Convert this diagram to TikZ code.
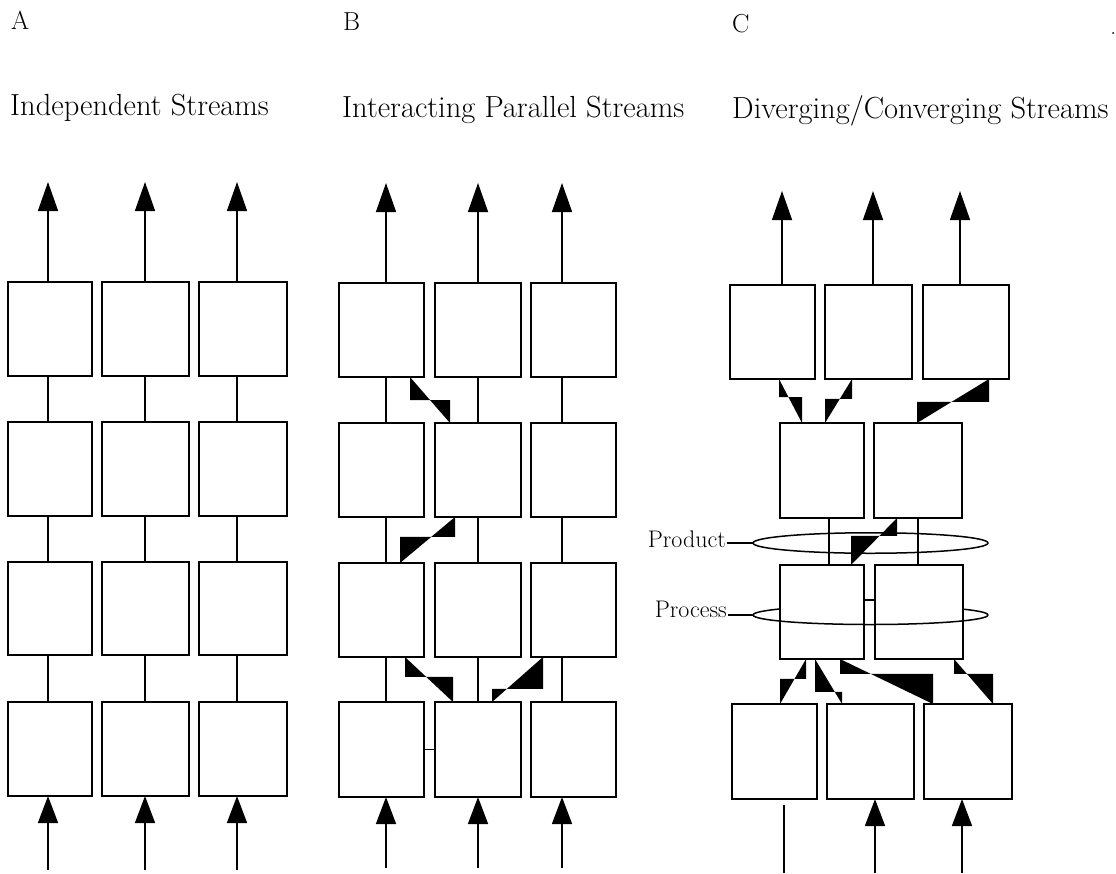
\documentclass[tikz,border=0pt]{standalone}
\usetikzlibrary{arrows.meta,calc,shapes.geometric}
\newcommand{\bx}[5]{\node[box, minimum width={#4pt-#2pt}, minimum height={#5pt-#3pt}] (#1) at ({(#2+#4)/2},{(#3+#5)/2}) {};}
\newcommand{\tieconn}[5]{%
  \coordinate (tsx) at (#2,0);
  \coordinate (tex) at (#4,0);
  \coordinate (tS) at (#1.south -| tsx);
  \coordinate (tE) at (#3.north -| tex);
  \coordinate (tM) at ($(tS)!#5!(tE)$);
  \fill (tS) -- (tS |- tM) -- (tM) -- (tE |- tM) -- (tE) -- cycle;}
\begin{document}
\begin{tikzpicture}[x=1pt,y=-1pt,
  box/.style={draw, fill=white, line width=1.8pt, inner sep=0pt, outer sep=0pt},
  link/.style={line width=1.5pt},
  thinlink/.style={line width=1.2pt},
  ell/.style={line width=1.5pt},
  uparr/.style={line width=1.5pt, -{Triangle[length=29pt,width=20pt]}},
  inarr/.style={line width=1.5pt, -{Triangle[length=27pt,width=20pt]}},
  ttl/.style={anchor=base west, inner sep=0pt, font=\fontsize{30.5}{33}\selectfont},
  letter/.style={anchor=base west, inner sep=0pt, font=\fontsize{26}{29}\selectfont},
  lbl/.style={anchor=base east, inner sep=1pt, font=\fontsize{24}{27}\selectfont},
]
\useasboundingbox (0,0) rectangle (1116,873);

% ---------- titles ----------
\node[letter] (la) at (11,29) {A};
\node[letter] (lb) at (343,30) {B};
\node[letter] (lc) at (732,32) {C};
\node[ttl] (ta) at (10,115) {Independent Streams};
\node[ttl] (tb) at (342,117) {Interacting Parallel Streams};
\node[ttl] (tc) at (732,118) {Diverging/Converging Streams};
\fill (1113,33) circle[radius=1pt];

% ---------- panel A ----------
\foreach \r/\ya/\yb in {1/282/376,2/422/516,3/562/655,4/702/796}
  \foreach \c/\xa/\xb in {1/8/92,2/102/189,3/199/287}
    {\bx{a\r\c}{\xa}{\ya}{\xb}{\yb}}
\foreach \c/\x in {1/48,2/145,3/237}{
  \coordinate (xa\c) at (\x,0);
  \foreach \r/\s in {1/2,2/3,3/4}
    \draw[link] (a\r\c.south -| xa\c) -- (a\s\c.north -| xa\c);
  \coordinate (ta\c) at (\x,182);
  \draw[uparr] (a1\c.north -| xa\c) -- (ta\c);
  \coordinate (fa\c) at (\x,870);
  \draw[inarr] (fa\c) -- (a4\c.south -| xa\c);
}

% ---------- panel B ----------
\foreach \r/\ya/\yb in {1/283/377,2/423/517,3/563/657,4/702/797}
  \foreach \c/\xa/\xb in {1/339/424,2/435/521,3/531/616}
    {\bx{b\r\c}{\xa}{\ya}{\xb}{\yb}}
\foreach \c/\x in {1/386,2/478,3/562}{
  \coordinate (xb\c) at (\x,0);
  \foreach \r/\s in {1/2,2/3,3/4}
    \draw[link] (b\r\c.south -| xb\c) -- (b\s\c.north -| xb\c);
  \coordinate (tb\c) at (\x,183);
  \draw[uparr] (b1\c.north -| xb\c) -- (tb\c);
  \coordinate (fb\c) at (\x,868);
  \draw[inarr] (fb\c) -- (b4\c.south -| xb\c);
}
\tieconn{b11}{410}{b22}{450}{0.5}
\tieconn{b22}{455}{b31}{400}{0.43}
\tieconn{b31}{405}{b42}{453}{0.44}
\tieconn{b33}{543}{b42}{492}{0.71}
\draw[thinlink] (b41.east) -- (b42.west);

% ---------- panel C ----------
\coordinate (procW) at (753,615);
\begin{scope}
  \clip (740,590) rectangle (780,620) (963,590) rectangle (1000,620);
  \draw[ell] (procW) arc[start angle=180, end angle=0, x radius=117.5pt, y radius=9.5pt];
\end{scope}

\bx{c11}{730}{285}{815}{379}
\bx{c12}{825}{285}{912}{379}
\bx{c13}{923}{285}{1009}{379}
\bx{c21}{780}{423}{864}{518}
\bx{c22}{874}{423}{962}{518}
\bx{c31}{780}{565}{864}{659}
\bx{c32}{875}{565}{963}{659}
\bx{c41}{732}{704}{817}{799}
\bx{c42}{827}{704}{914}{799}
\bx{c43}{924}{704}{1012}{799}

\foreach \c/\x in {1/782,2/873,3/960}{
  \coordinate (xct\c) at (\x,0);
  \coordinate (tc\c) at (\x,191);
  \draw[uparr] (c1\c.north -| xct\c) -- (tc\c);
}
\foreach \c/\x in {1/829,2/918}{
  \coordinate (xcm\c) at (\x,0);
  \draw[link] (c2\c.south -| xcm\c) -- (c3\c.north -| xcm\c);
}
\coordinate (fc1) at (784,873);
\coordinate (gc1) at (784,805);
\draw[link] (fc1) -- (gc1);
\coordinate (fc2) at (875,873);
\draw[inarr] (fc2) -- (c42.south -| fc2);
\coordinate (fc3) at (962,873);
\draw[inarr] (fc3) -- (c43.south -| fc3);

% product ellipse and label
\node[draw, ellipse, ell, minimum width=235pt, minimum height=20.5pt, inner sep=0pt, outer sep=0pt] (prodE) at (870.5,543) {};
\node[lbl] (prod) at (727,547) {Product};
\draw[thinlink] (prodE.west) -- (prodE.west -| prod.east);

% process ellipse (front half) and label
\draw[ell] (procW) arc[start angle=180, end angle=360, x radius=117.5pt, y radius=9.5pt];
\node[lbl] (proc) at (728,617) {Process};
\draw[thinlink] (procW) -- (procW -| proc.east);

\tieconn{c11}{779}{c21}{802}{0.41}
\tieconn{c12}{852}{c21}{825}{0.45}
\tieconn{c13}{989}{c22}{917}{0.52}
\tieconn{c22}{897}{c31}{851}{0.38}
\tieconn{c31}{806}{c41}{780}{0.44}
\tieconn{c31}{815}{c42}{842}{0.73}
\tieconn{c31}{840}{c43}{933}{0.33}
\tieconn{c32}{954}{c43}{993}{0.33}
\draw[thinlink] ([yshift=12pt]c31.east) -- ([yshift=12pt]c32.west);
\end{tikzpicture}
\end{document}
